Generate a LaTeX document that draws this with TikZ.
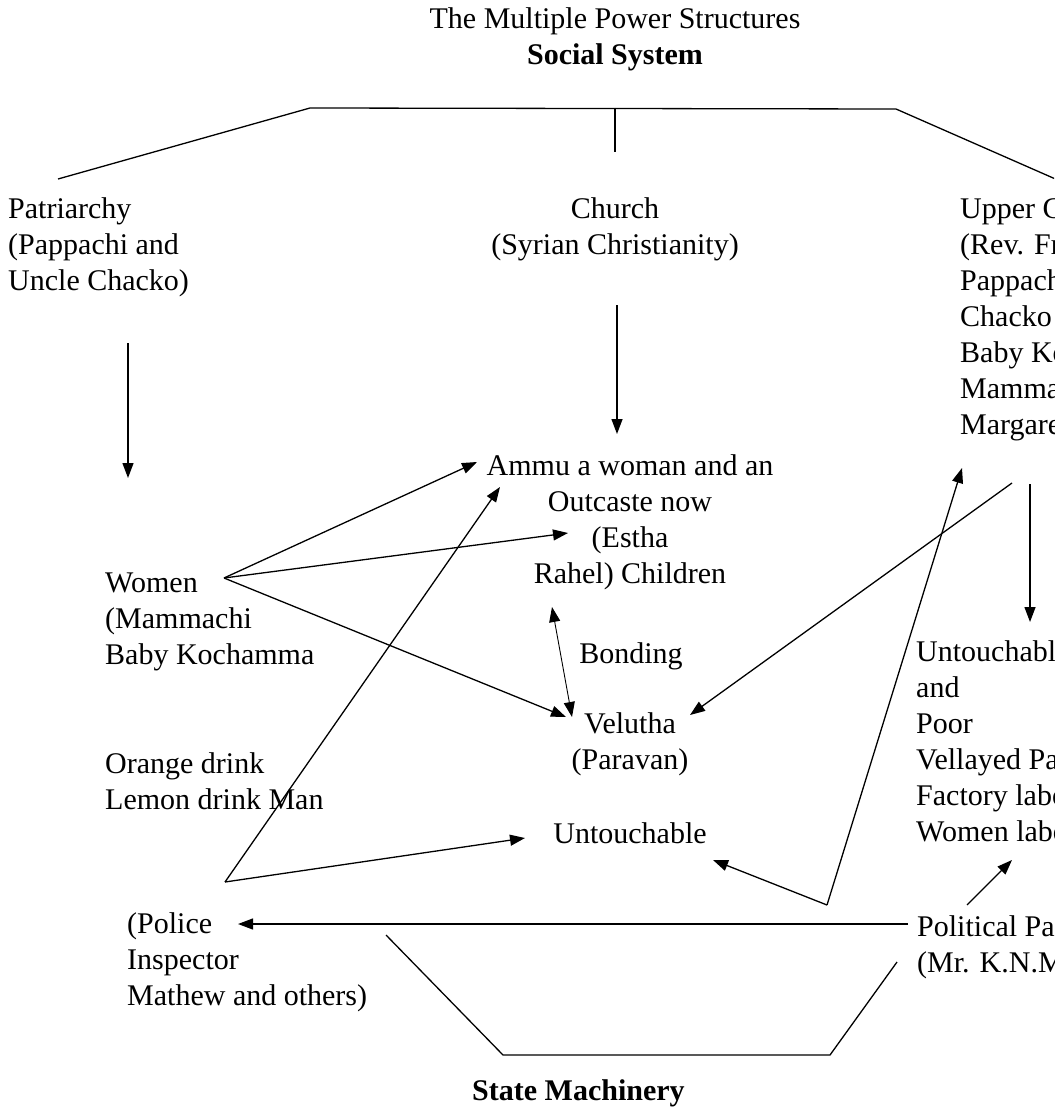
\documentclass[tikz,border=0pt]{standalone}
\usepackage{fontspec}
\setmainfont{Liberation Serif}
\usetikzlibrary{arrows.meta}
\tikzset{
  lbl/.style={inner sep=0pt, align=left, font=\fontsize{30}{36}\selectfont},
  clbl/.style={lbl, align=center},
  link/.style={line width=1.3pt},
  arr/.style={link, -{Triangle[length=15pt,width=11pt]}},
  darr/.style={line width=0.9pt, {Triangle[length=15pt,width=11pt]}-{Triangle[length=15pt,width=11pt]}},
}
\begin{document}
\begin{tikzpicture}[x=1pt,y=-1pt]
  \useasboundingbox (0,0) rectangle (1054,1110);
  \clip (0,0) rectangle (1054,1110);
  % texts (placed by the baseline of their last line)
  \node[clbl, anchor=base] (title) at (615,65) {The Multiple Power Structures\\\textbf{Social System}};
  \node[lbl, anchor=base west] (patr) at (8,290) {Patriarchy\\(Pappachi and\\Uncle Chacko)};
  \node[clbl, anchor=base] (church) at (615,254) {Church\\(Syrian Christianity)};
  \node[lbl, anchor=base west] (upper) at (960,434) {Upper Caste\\(Rev. Fr.\\Pappachi\\Chacko\\Baby Kochamma\\Mammachi\\Margaret)};
  \node[clbl, anchor=base] (ammu) at (630,583) {Ammu a woman and an\\Outcaste now\\(Estha\\Rahel) Children};
  \node[lbl, anchor=base west] (women) at (105,664) {Women\\(Mammachi\\Baby Kochamma};
  \node[clbl, anchor=base] (bond) at (631,663) {Bonding};
  \node[lbl, anchor=base west] (poor) at (916,841) {Untouchable\\and\\Poor\\Vellayed Paapen\\Factory labourers\\Women labourers};
  \node[clbl, anchor=base] (velutha) at (630,769) {Velutha\\(Paravan)};
  \node[lbl, anchor=base west] (drink) at (105,809) {Orange drink\\Lemon drink Man};
  \node[clbl, anchor=base] (untouch) at (630,843) {Untouchable};
  \node[lbl, anchor=base west] (police) at (127,1005) {(Police\\Inspector\\Mathew and others)};
  \node[lbl, anchor=base west] (party) at (917,972) {Political Party\\(Mr. K.N.M. Pillai)};
  \node[lbl, anchor=base west] (state) at (472,1100) {\textbf{State Machinery}};
  % junction points
  \coordinate (tl) at (310,108);
  \coordinate (tr) at (896,109);
  \coordinate (tm) at (615,108);
  \coordinate (tmend) at (615,152);
  \coordinate (patrtop) at (58,179);
  \coordinate (uppertop) at (1060,181);
  \coordinate (patrfrom) at (128,343);
  \coordinate (patrto) at (128,478);
  \coordinate (churchfrom) at (617,305);
  \coordinate (churchto) at (617,434);
  \coordinate (upperfrom) at (1030,484);
  \coordinate (upperto) at (1030,622);
  \coordinate (upperfoot) at (1012,483);
  \coordinate (womenpt) at (224,578);
  \coordinate (ammutip) at (477,462);
  \coordinate (esthatip) at (568,533);
  \coordinate (velleft) at (566,717);
  \coordinate (velright) at (690,715);
  \coordinate (bondtop) at (552,607);
  \coordinate (bondbot) at (572,717);
  \coordinate (drinkpt) at (225,882);
  \coordinate (ammubot) at (500,487);
  \coordinate (untleft) at (525,838);
  \coordinate (untright) at (713,860);
  \coordinate (partypt) at (827,905);
  \coordinate (margtip) at (962,468);
  \coordinate (linefrom) at (908,924);
  \coordinate (linetip) at (238,924);
  \coordinate (smallfrom) at (967,905);
  \coordinate (smalltip) at (1012,860);
  \coordinate (trapa) at (386,935);
  \coordinate (trapb) at (503,1055);
  \coordinate (trapc) at (830,1055);
  \coordinate (trapd) at (897,962);
  % frame of the social system
  \begin{scope}[link]
    \draw (patrtop) -- (tl) -- (tr) -- (uppertop);
    \draw (tm) -- (tmend);
    \draw (trapa) -- (trapb) -- (trapc) -- (trapd);
  \end{scope}
  % arrows
  \begin{scope}[arr]
    \draw (patrfrom) to (patrto);
    \draw (churchfrom) to (churchto);
    \draw (upperfrom) to (upperto);
    \draw (womenpt) to (ammutip);
    \draw (womenpt) to (esthatip);
    \draw (womenpt) to (velleft);
    \draw (upperfoot) to (velright);
    \draw (drinkpt) to (ammubot);
    \draw (drinkpt) to (untleft);
    \draw (partypt) to (untright);
    \draw (partypt) to (margtip);
    \draw (linefrom) to (linetip);
    \draw (smallfrom) to (smalltip);
  \end{scope}
  \draw[darr] (bondtop) to (bondbot);
\end{tikzpicture}
\end{document}
